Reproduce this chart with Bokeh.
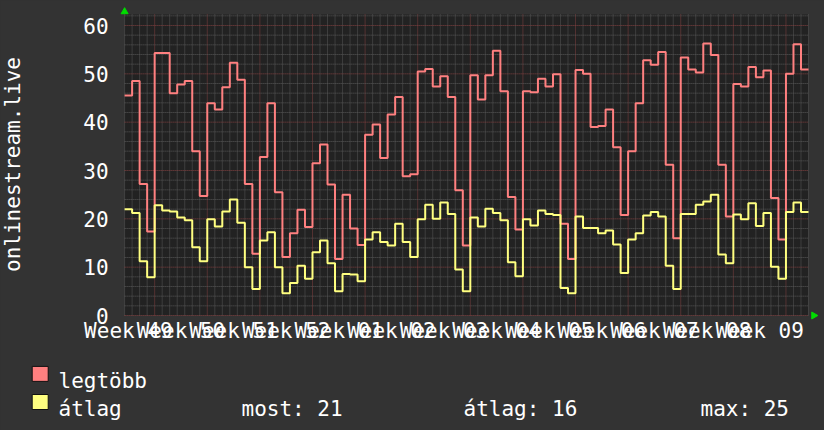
import math
from bokeh.plotting import figure
from bokeh.models import Range1d, FixedTicker
from bokeh.embed import file_html
from bokeh.resources import INLINE
from bokeh.core.properties import value

# ---------------- data ----------------
WEEK_LABELS = ["Week 49", "Week 50", "Week 51", "Week 52", "Week 01", "Week 02", "Week 03",
               "Week 04", "Week 05", "Week 06", "Week 07", "Week 08", "Week 09"]

SERIES_NAMES = ["legtöbb", "átlag"]
Y_TITLE = "onlinestream.live"

# daily maximum (legtöbb)
LEGTOBB = [45.5, 48.5, 27.2, 17.4, 54.3, 54.3, 46.0, 47.8, 48.5, 34.0, 24.7, 43.9, 42.6, 47.2,
           52.3, 48.8, 27.2, 12.8, 32.8, 43.9, 25.5, 12.1, 17.0, 21.9, 18.3, 31.5, 35.4, 27.1,
           11.7, 25.0, 18.0,
           14.6, 37.4, 39.5, 32.6, 41.6, 45.2, 28.8, 29.2, 50.5, 51.0, 47.4, 49.5, 45.2, 25.9,
           14.5, 49.7, 44.7, 49.7, 54.8, 46.4, 24.5, 17.8, 46.4, 46.2, 49.0, 47.4, 49.9, 19.0,
           11.7, 50.8,
           50.0, 39.0, 39.2, 42.6, 34.8, 20.8, 34.0, 43.9, 52.8, 51.9, 54.5, 31.2, 16.0, 53.4,
           50.9, 50.3, 56.3, 53.9, 31.2, 20.5, 47.9, 47.4, 51.4, 49.3, 50.7, 24.3, 15.7, 50.0,
           56.1, 50.9]

# daily average (átlag)
ATLAG = [22.0, 21.2, 11.2, 7.9, 22.8, 21.7, 21.5, 20.3, 19.7, 14.1, 11.2, 19.9, 18.4, 21.5,
         24.0, 19.2, 10.0, 5.5, 15.5, 17.2, 10.0, 4.6, 6.7, 10.3, 7.6, 13.1, 15.5, 10.8,
         5.0, 8.6, 8.5,
         7.1, 15.7, 17.2, 15.2, 14.5, 19.0, 15.2, 12.1, 19.9, 22.9, 20.0, 23.4, 21.0, 9.5,
         5.0, 20.3, 18.4, 22.1, 21.2, 19.7, 11.0, 8.1, 19.9, 18.6, 21.7, 21.0, 20.8, 5.7,
         4.6, 20.5,
         18.1, 18.1, 17.0, 17.6, 14.7, 8.8, 15.7, 17.0, 20.7, 21.4, 20.5, 10.3, 5.5, 21.0,
         21.0, 22.9, 23.6, 25.0, 12.6, 10.8, 20.9, 19.9, 23.2, 18.5, 21.2, 10.1, 7.6, 21.4,
         23.4, 21.4]

Y_TICKS = [0, 10, 20, 30, 40, 50, 60]

# ---------------- style / layout ----------------
FONT = "DejaVu Sans Mono"
FS = "21px"
BG = "#333333"
CANVAS = "#222222"
COL_MAX = "#FF8080"
COL_AVG = "#FFFF80"
MINOR = "#5a5a5a"
MAJOR = "#864242"
ARROW = "#00dd00"

W, H = 824, 430
N = len(ATLAG)            # days shown
WEEK_START = 4            # day index of first week boundary
PX_X0, PX_X1 = 124.1, 808.0   # pixel columns of the plot area's left / right edge
PY_Y0 = 315.0             # pixel row of value 0
PX_UNIT = 290.0 / 60.0    # pixels per unit on the value axis
PX_DAY = (PX_X1 - PX_X0) / N


def fx(px):
    return (px - PX_X0) / PX_DAY


def fy(py):
    return (PY_Y0 - py) / PX_UNIT


Y_TOP = fy(14)            # top edge of the plot area

p = figure(width=W, height=H,
           x_range=Range1d(fx(0), fx(W)), y_range=Range1d(fy(H), fy(0)),
           output_backend="svg", toolbar_location=None, min_border=0,
           background_fill_color=BG, border_fill_color=BG, outline_line_color=None)
p.xgrid.visible = False
p.ygrid.visible = False

# plot area
p.quad(left=[0], right=[N], bottom=[0], top=[Y_TOP], fill_color=CANVAS, line_color=None)

day_minor = [d for d in range(0, N + 1) if (d - WEEK_START) % 7 != 0]
day_major = [d for d in range(0, N + 1) if (d - WEEK_START) % 7 == 0]
y_minor = [v for v in range(0, int(Y_TOP) + 1, 2) if v % 10 != 0]

for ticks, col in [(day_minor, MINOR), (day_major, MAJOR)]:
    p.segment(x0=ticks, y0=[0] * len(ticks), x1=ticks, y1=[Y_TOP] * len(ticks),
              line_color=col, line_width=1, line_dash="1 1")
for ticks, col in [(y_minor, MINOR), (Y_TICKS, MAJOR)]:
    p.segment(x0=[0] * len(ticks), y0=ticks, x1=[N] * len(ticks), y1=ticks,
              line_color=col, line_width=1, line_dash="1 1")

xs = list(range(N + 1))
p.step(xs, LEGTOBB + [LEGTOBB[-1]], mode="after", line_color=COL_MAX, line_width=2)
p.step(xs, ATLAG + [ATLAG[-1]], mode="after", line_color=COL_AVG, line_width=2)

# axis arrows
p.scatter(x=[0], y=[fy(11.2)], marker="triangle", size=7, fill_color=ARROW, line_color=ARROW)
p.scatter(x=[fx(813.3)], y=[0], marker="triangle", size=7, angle=-math.pi / 2,
          fill_color=ARROW, line_color=ARROW)

# axes, fixed on the zero lines
label_pos = [WEEK_START - 3.5 + 7 * k for k in range(len(WEEK_LABELS))]
xax = p.xaxis[0]
xax.fixed_location = 0
xax.ticker = FixedTicker(ticks=label_pos)
xax.major_label_overrides = {lp: t for lp, t in zip(label_pos, WEEK_LABELS)}
xax.major_label_standoff = 3
yax = p.yaxis[0]
yax.fixed_location = 0
yax.ticker = FixedTicker(ticks=Y_TICKS)
yax.major_label_standoff = 16
for ax in (xax, yax):
    ax.axis_line_color = None
    ax.major_tick_line_color = None
    ax.minor_tick_line_color = None
    ax.major_tick_out = 0
    ax.major_tick_in = 0
    ax.minor_tick_out = 0
    ax.major_label_text_font = FONT
    ax.major_label_text_font_size = FS
    ax.major_label_text_color = "white"

# vertical axis title
p.text(x=[fx(12.5)], y=[fy(164)], text=[Y_TITLE], angle=math.pi / 2,
       text_font=value(FONT), text_font_size=FS, text_color="white",
       text_align="center", text_baseline="alphabetic")

# ---------------- legend ----------------
p.rect(x=[fx(39.7), fx(39.7)], y=[fy(373.4), fy(401.5)],
       width=16 / PX_DAY, height=15 / PX_UNIT,
       fill_color=[COL_MAX, COL_AVG], line_color="#111111", line_width=1)

stats = ["most: %.0f" % ATLAG[-1],
         "átlag: %.0f" % (sum(ATLAG) / len(ATLAG)),
         "max: %.0f" % max(ATLAG)]
legend_texts = [SERIES_NAMES[0], SERIES_NAMES[1]] + stats
legend_px = [(58, 380), (58, 408), (241, 408), (463, 408), (700, 408)]
p.text(x=[fx(a) for a, b in legend_px], y=[fy(b) for a, b in legend_px], text=legend_texts,
       text_font=value(FONT), text_font_size=FS, text_color="white",
       text_align="left", text_baseline="alphabetic")

html = file_html(p, INLINE).replace("<body>", '<body style="background-color:#333333;">')
open("out.html", "w").write(html)
